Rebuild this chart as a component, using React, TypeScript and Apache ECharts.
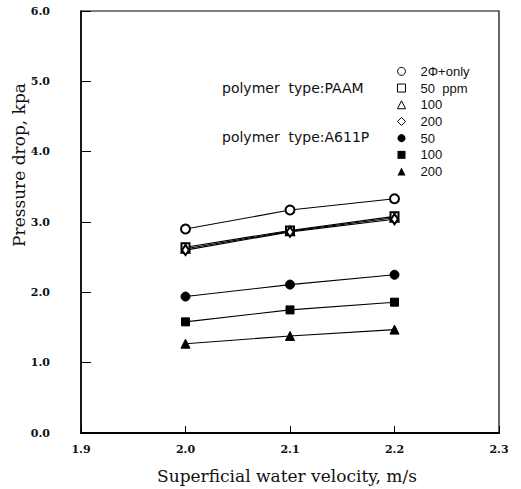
import React, { useEffect, useRef } from "react";
import * as echarts from "echarts";

const velocities = [2.0, 2.1, 2.2];
const twoPhaseOnly = [2.9, 3.17, 3.33];
const paam50 = [2.64, 2.88, 3.08];
const paam100 = [2.62, 2.87, 3.06];
const paam200 = [2.6, 2.86, 3.04];
const a611p50 = [1.94, 2.11, 2.25];
const a611p100 = [1.58, 1.75, 1.86];
const a611p200 = [1.27, 1.38, 1.47];

const xTicks = [1.9, 2.0, 2.1, 2.2, 2.3];
const yTicks = [0, 1, 2, 3, 4, 5, 6];

const seriesDefs = [
  { key: "s1", label: "2Φ+only", data: twoPhaseOnly, symbol: "emptyCircle", icon: "circle", empty: true, size: 9 },
  { key: "s2", label: "50  ppm", data: paam50, symbol: "emptyRect", icon: "rect", empty: true, size: 8 },
  { key: "s3", label: "100", data: paam100, symbol: "emptyTriangle", icon: "triangle", empty: true, size: 8 },
  { key: "s4", label: "200", data: paam200, symbol: "emptyDiamond", icon: "diamond", empty: true, size: [7, 10] },
  { key: "s5", label: "50", data: a611p50, symbol: "circle", icon: "circle", empty: false, size: 9 },
  { key: "s6", label: "100", data: a611p100, symbol: "rect", icon: "rect", empty: false, size: 8 },
  { key: "s7", label: "200", data: a611p200, symbol: "triangle", icon: "triangle", empty: false, size: 9 },
];

export default function App() {
  const ref = useRef<HTMLDivElement>(null);
  useEffect(() => {
    if (!ref.current) return;
    const chart = echarts.init(ref.current, undefined, { renderer: "svg" });
    const labelMap: Record<string, string> = {};
    seriesDefs.forEach((s) => (labelMap[s.key] = s.label));
    const serifFont = "'DejaVu Serif', 'Liberation Serif', serif";
    const sansFont = "'Liberation Sans', Arial, sans-serif";
    const wideSans = "'DejaVu Sans', 'Liberation Sans', sans-serif";
    chart.setOption({
      animation: false,
      backgroundColor: "#fff",
      grid: { left: 81, right: 22, top: 11, bottom: 56, show: true, borderColor: "#000", borderWidth: 1.2 },
      xAxis: {
        type: "value",
        min: xTicks[0],
        max: xTicks[xTicks.length - 1],
        interval: 0.1,
        name: "Superficial water velocity, m/s",
        nameLocation: "middle",
        nameGap: 34,
        nameTextStyle: { fontFamily: serifFont, fontSize: 17, color: "#111", padding: [0, 6, 0, 0] },
        axisLine: { lineStyle: { color: "#000", width: 1.8 } },
        axisTick: { inside: true, length: 7, lineStyle: { color: "#000", width: 1 } },
        axisLabel: {
          margin: 11,
          fontFamily: serifFont,
          fontWeight: "bold",
          fontSize: 11,
          color: "#111",
          formatter: (v: number) => v.toFixed(1),
        },
        splitLine: { show: false },
      },
      yAxis: {
        type: "value",
        min: yTicks[0],
        max: yTicks[yTicks.length - 1],
        interval: 1,
        axisLine: { lineStyle: { color: "#000", width: 1.5 } },
        axisTick: { inside: true, length: 10, lineStyle: { color: "#000", width: 1 } },
        axisLabel: {
          margin: 31,
          fontFamily: serifFont,
          fontWeight: "bold",
          fontSize: 11,
          color: "#111",
          formatter: (v: number) => v.toFixed(1),
        },
        splitLine: { show: false },
      },
      legend: {
        orient: "vertical",
        left: 392,
        top: 58,
        itemWidth: 8,
        itemHeight: 8,
        itemGap: 0,
        selectedMode: false,
        formatter: (n: string) => labelMap[n] || n,
        textStyle: { fontFamily: sansFont, fontSize: 13, color: "#111", lineHeight: 16.7, padding: [0, 0, 0, 10] },
        data: seriesDefs.map((s) => ({
          name: s.key,
          icon: s.icon,
          itemStyle: s.empty
            ? { color: "#fff", borderColor: "#000", borderWidth: 1 }
            : { color: "#000", borderColor: "#000", borderWidth: 0 },
        })),
      },
      graphic: [
        {
          type: "text",
          x: 19,
          y: 165,
          rotation: Math.PI / 2,
          style: { text: "Pressure drop, kpa", font: `17px ${serifFont}`, fill: "#111", align: "center", verticalAlign: "middle" },
        },
        {
          type: "text",
          x: 222,
          y: 88,
          style: { text: "polymer  type:PAAM", font: `14px ${wideSans}`, fill: "#111", align: "left", verticalAlign: "middle" },
        },
        {
          type: "text",
          x: 222,
          y: 137,
          style: { text: "polymer  type:A611P", font: `14px ${wideSans}`, fill: "#111", align: "left", verticalAlign: "middle" },
        },
      ],
      series: seriesDefs.map((s) => ({
        name: s.key,
        type: "line",
        data: velocities.map((v, i) => [v, s.data[i]]),
        symbol: s.symbol,
        symbolSize: s.size,
        showSymbol: true,
        color: "#000",
        itemStyle: { color: "#000", borderColor: "#000", borderWidth: 1 },
        lineStyle: { color: "#000", width: 1.1 },
      })),
    });
    return () => chart.dispose();
  }, []);
  return <div ref={ref} style={{ position: "fixed", left: 0, top: 0, width: 521, height: 489 }} />;
}
